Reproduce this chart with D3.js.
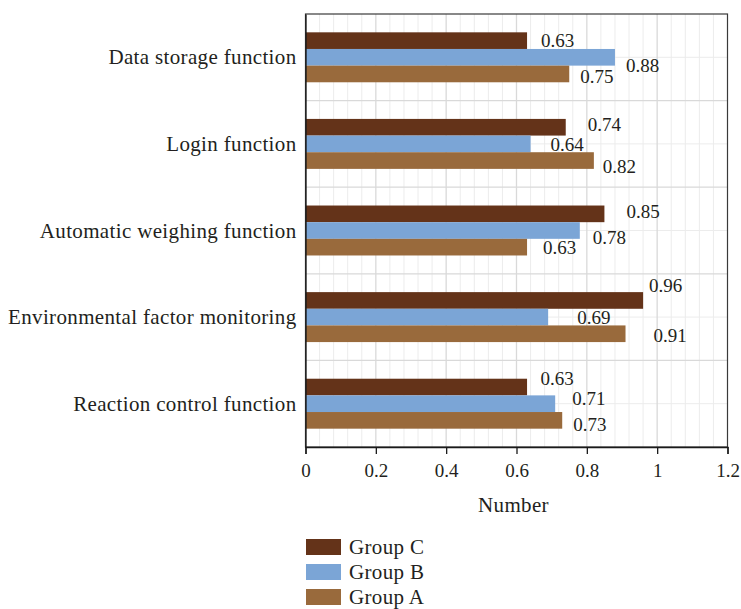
<!DOCTYPE html>
<html>
<head>
<meta charset="utf-8">
<script src="https://cdn.jsdelivr.net/npm/d3@7"></script>
<style>
  html, body { margin: 0; padding: 0; background: #fff; }
  svg { display: block; font-family: "Liberation Serif", "Times New Roman", serif; }
</style>
</head>
<body>
<svg id="chart" width="741" height="609"></svg>
<script>
// Categories (top to bottom) and the three groups drawn in each band
const categories = [
  "Data storage function",
  "Login function",
  "Automatic weighing function",
  "Environmental factor monitoring",
  "Reaction control function"
];
const seriesNames = ["Group C", "Group B", "Group A"];
const groupC = [0.63, 0.74, 0.85, 0.96, 0.63];
const groupB = [0.88, 0.64, 0.78, 0.69, 0.71];
const groupA = [0.75, 0.82, 0.63, 0.91, 0.73];
const xTicks = [0, 0.2, 0.4, 0.6, 0.8, 1, 1.2];

// Styling and layout
const colors = { "Group C": "#643319", "Group B": "#7ba5d6", "Group A": "#996a3c" };
const textColor = "#231f20";
const numberSize = 19;
const wordSize = 21;
const wordSpacing = "0.35px";
// per-label nudges [dx from bar end, dy of baseline from bar centre], keeps labels clear of each other
const labelNudge = [
  [[14, 6], [11, 15], [11, 9]],
  [[22, 3.5], [20, 7], [9, 12]],
  [[22, 4.5], [13, 13.5], [16, 7]],
  [[6, -8.5], [29, 7], [28, 8]],
  [[13.5, -2.5], [17, 1], [11, 11]]
];

const values = { "Group C": groupC, "Group B": groupB, "Group A": groupA };
const rows = categories.map((c, i) => ({
  category: c,
  index: i,
  bars: seriesNames.map((s, j) => ({ series: s, value: values[s][i], nudge: labelNudge[i][j] }))
}));

const svg = d3.select("#chart");
const plot = { left: 305.5, right: 727.5, top: 14, bottom: 447 };

const x = d3.scaleLinear().domain([0, 1.2]).range([plot.left, plot.right]);
const y = d3.scaleBand().domain(categories).range([plot.top, plot.bottom]).paddingInner(0).paddingOuter(0);
const y1 = d3.scaleBand().domain(seriesNames).range([0, y.bandwidth()]).paddingInner(0).paddingOuter(1.1);

// Gridlines: minor every 0.04, major every 0.2; horizontals at band edges and band centres
const grid = svg.append("g");
const minorX = d3.range(0, 1.2001, 0.04).filter(v => Math.abs(Math.round(v / 0.2) * 0.2 - v) > 1e-6);
grid.selectAll("line.minx").data(minorX).join("line")
  .attr("x1", d => x(d)).attr("x2", d => x(d))
  .attr("y1", plot.top).attr("y2", plot.bottom)
  .attr("stroke", "#ececec").attr("stroke-width", 1);
grid.selectAll("line.miny").data(categories).join("line")
  .attr("x1", plot.left).attr("x2", plot.right)
  .attr("y1", d => y(d) + y.bandwidth() / 2).attr("y2", d => y(d) + y.bandwidth() / 2)
  .attr("stroke", "#ececec").attr("stroke-width", 1);
grid.selectAll("line.majx").data(xTicks.slice(1, -1)).join("line")
  .attr("x1", d => x(d)).attr("x2", d => x(d))
  .attr("y1", plot.top).attr("y2", plot.bottom)
  .attr("stroke", "#d9d9d9").attr("stroke-width", 1.3);
grid.selectAll("line.majy").data(categories.slice(1)).join("line")
  .attr("x1", plot.left).attr("x2", plot.right)
  .attr("y1", d => y(d)).attr("y2", d => y(d))
  .attr("stroke", "#d9d9d9").attr("stroke-width", 1.3);

// Bars
const bands = svg.append("g").selectAll("g").data(rows).join("g")
  .attr("transform", d => `translate(0,${y(d.category)})`);
bands.selectAll("rect").data(d => d.bars).join("rect")
  .attr("x", x(0))
  .attr("y", d => y1(d.series))
  .attr("width", d => x(d.value) - x(0))
  .attr("height", y1.bandwidth())
  .attr("fill", d => colors[d.series]);

// Value labels
bands.selectAll("text").data(d => d.bars).join("text")
  .attr("x", d => x(d.value) + d.nudge[0])
  .attr("y", d => y1(d.series) + y1.bandwidth() / 2 + d.nudge[1])
  .attr("fill", textColor)
  .attr("font-size", numberSize)
  .text(d => d3.format(".2f")(d.value));

// Frame
svg.append("rect")
  .attr("x", plot.left).attr("y", plot.top)
  .attr("width", plot.right - plot.left).attr("height", plot.bottom - plot.top)
  .attr("fill", "none").attr("stroke", "#3a3a3a").attr("stroke-width", 1.2);

// Bottom axis
const xAxis = svg.append("g")
  .attr("transform", `translate(0,${plot.bottom})`)
  .call(d3.axisBottom(x).tickValues(xTicks).tickFormat(d3.format("")).tickSize(7).tickPadding(10));
xAxis.select(".domain").attr("stroke", "#1a1a1a").attr("stroke-width", 1.3);
xAxis.selectAll(".tick line").attr("stroke", "#1a1a1a").attr("stroke-width", 1.3);
xAxis.selectAll(".tick text")
  .attr("font-family", "Liberation Serif, Times New Roman, serif")
  .attr("font-size", numberSize).attr("fill", textColor);

// Left axis (category names)
const yAxis = svg.append("g")
  .attr("transform", `translate(${plot.left},0)`)
  .call(d3.axisLeft(y).tickSize(0).tickPadding(9));
yAxis.select(".domain").attr("stroke", "#1a1a1a").attr("stroke-width", 1.3);
yAxis.selectAll(".tick text")
  .attr("font-family", "Liberation Serif, Times New Roman, serif")
  .attr("font-size", wordSize).attr("letter-spacing", wordSpacing).attr("fill", textColor)
  .attr("dy", "0.34em");

// Axis title
svg.append("text")
  .attr("x", (plot.left + plot.right) / 2 - 3)
  .attr("y", 512)
  .attr("text-anchor", "middle")
  .attr("font-size", wordSize).attr("letter-spacing", wordSpacing).attr("fill", textColor)
  .text("Number");

// Legend
const legend = svg.append("g").attr("transform", "translate(306,539)");
const li = legend.selectAll("g").data(seriesNames).join("g")
  .attr("transform", (d, i) => `translate(0,${i * 25})`);
li.append("rect").attr("width", 35).attr("height", 16).attr("fill", d => colors[d]);
li.append("text").attr("x", 43).attr("y", 15)
  .attr("font-size", wordSize).attr("letter-spacing", wordSpacing).attr("fill", textColor)
  .text(d => d);
</script>
</body>
</html>
